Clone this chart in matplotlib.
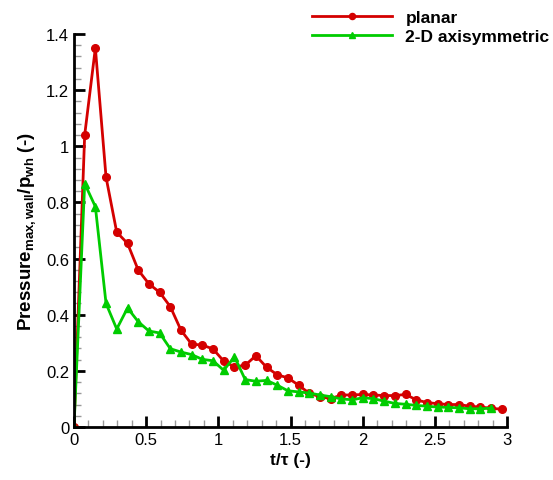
import matplotlib.pyplot as plt
from matplotlib.ticker import MultipleLocator

plt.rcParams['font.family'] = ['Liberation Sans', 'DejaVu Sans']
plt.rcParams['mathtext.fontset'] = 'custom'
plt.rcParams['mathtext.rm'] = 'Liberation Sans:bold'
plt.rcParams['mathtext.it'] = 'Liberation Sans:bold'
plt.rcParams['mathtext.bf'] = 'Liberation Sans:bold'
plt.rcParams['mathtext.default'] = 'bf'

# temps adimensionnel t/tau
t = [0.000, 0.074, 0.148, 0.222, 0.296, 0.371, 0.445, 0.519, 0.593, 0.667,
     0.741, 0.815, 0.889, 0.963, 1.037, 1.112, 1.186, 1.260, 1.334, 1.408,
     1.482, 1.556, 1.630, 1.704, 1.778, 1.853, 1.927, 2.001, 2.075, 2.149,
     2.223, 2.297, 2.371, 2.445, 2.519, 2.594, 2.668, 2.742, 2.816, 2.890,
     2.964]

planar = [0.000, 1.040, 1.350, 0.890, 0.694, 0.654, 0.559, 0.510, 0.480, 0.429,
          0.345, 0.295, 0.292, 0.278, 0.235, 0.214, 0.220, 0.254, 0.213, 0.186,
          0.175, 0.149, 0.120, 0.108, 0.101, 0.114, 0.114, 0.116, 0.114, 0.112,
          0.112, 0.116, 0.097, 0.087, 0.083, 0.080, 0.080, 0.074, 0.071, 0.067,
          0.063]

axisym = [0.000, 0.867, 0.785, 0.440, 0.349, 0.424, 0.375, 0.342, 0.335, 0.279,
          0.267, 0.258, 0.241, 0.236, 0.202, 0.250, 0.169, 0.163, 0.166, 0.149,
          0.129, 0.125, 0.121, 0.114, 0.108, 0.100, 0.097, 0.104, 0.101, 0.092,
          0.084, 0.081, 0.077, 0.074, 0.071, 0.070, 0.068, 0.065, 0.065, 0.067]

fig = plt.figure(figsize=(5.53, 4.81), dpi=100)
ax = fig.add_axes([74/553, 1 - 428/481, 433/553, 393/481])

ax.plot(t, planar, color='#d40000', lw=2, marker='o', ms=5.5, label='planar')
ax.plot(t[:len(axisym)], axisym, color='#00cc00', lw=2, marker='^', ms=5.5,
        label='2-D axisymmetric')

ax.set_xlim(0, 3)
ax.set_ylim(0, 1.4)
ax.spines['top'].set_visible(False)
ax.spines['right'].set_visible(False)
ax.spines['left'].set_linewidth(2)
ax.spines['bottom'].set_linewidth(2)

ax.xaxis.set_major_locator(MultipleLocator(0.5))
ax.xaxis.set_minor_locator(MultipleLocator(0.1))
ax.yaxis.set_major_locator(MultipleLocator(0.2))
ax.yaxis.set_minor_locator(MultipleLocator(0.04))
ax.xaxis.set_major_formatter(lambda v, p: f'{v:g}')
ax.yaxis.set_major_formatter(lambda v, p: f'{v:g}')
ax.tick_params(which='major', direction='in', length=8, width=2, labelsize=12)
ax.tick_params(which='minor', direction='in', length=5, width=1, color='#999999')

ax.set_xlabel('t/τ (-)', fontsize=12.5, fontweight='bold')
ax.set_ylabel(r'Pressure$_{max,wall}$/p$_{wh}$ (-)', fontsize=13.5, fontweight='bold',
              labelpad=6)

ax.legend(loc='upper left', bbox_to_anchor=(303/553, 1 - 2/481),
          bbox_transform=fig.transFigure, frameon=False, handlelength=4.6,
          handletextpad=0.8, borderpad=0, labelspacing=0.25, markerscale=0.8,
          prop={'weight': 'bold', 'size': 12.5})

fig.savefig('out.png', dpi=100)
